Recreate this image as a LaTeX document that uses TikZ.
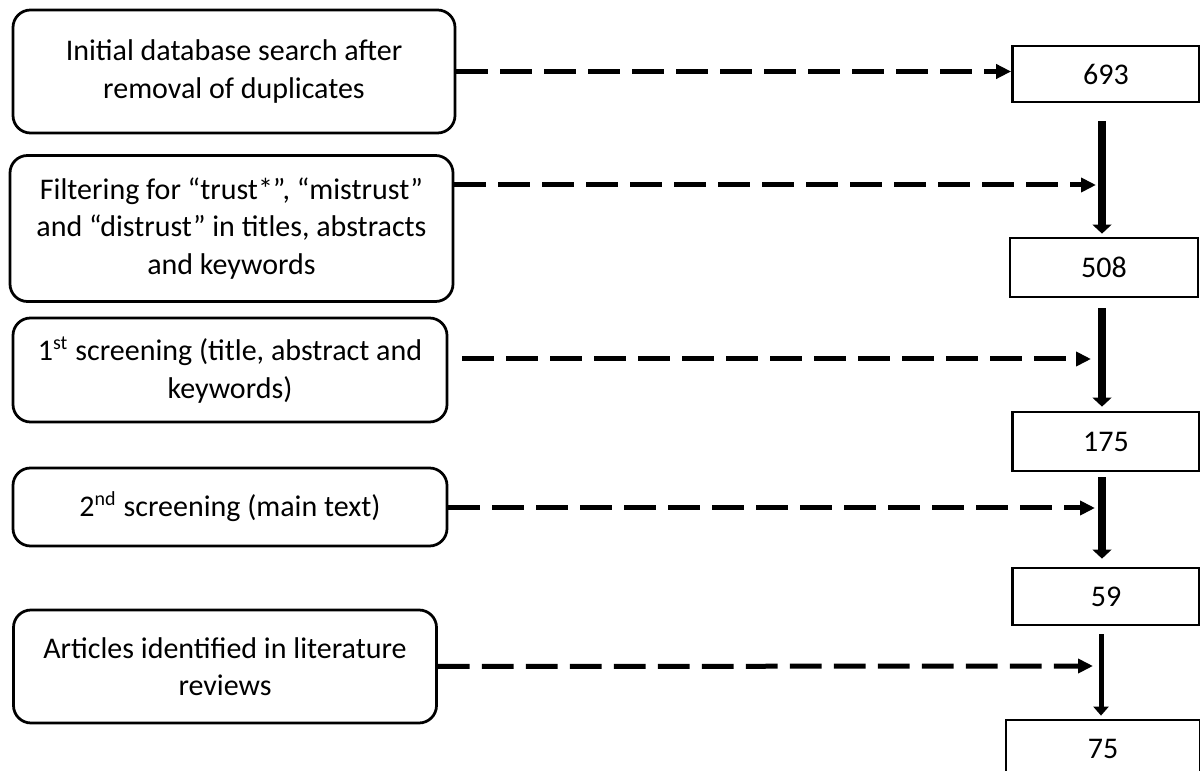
\documentclass[tikz,border=0pt]{standalone}
\usepackage{fontspec}
\setmainfont{Carlito}
\usetikzlibrary{arrows.meta,calc}
\begin{document}
\begin{tikzpicture}[x=0.4pt,y=-0.4pt,
  txt/.style={font=\fontsize{12}{15}\selectfont},
  lbox/.style={txt,draw,line width=1.1pt,rounded corners=7pt,align=center,inner sep=0pt},
  nbox/.style={txt,draw,line width=1.1pt,inner sep=0pt},
  darrow/.style={line width=2pt,dash pattern=on 12.7pt off 4.9pt,-{Triangle[length=6pt,width=5.6pt]}},
  varrow/.style={line width=3pt,-{Triangle[length=3.6pt,width=7.5pt]}},
  thinvarrow/.style={line width=2pt,-{Triangle[length=3.6pt,width=6pt]}},
]
\useasboundingbox (0,0) rectangle (1200,771);

% left boxes
\node[lbox,minimum width=176.8pt,minimum height=49.2pt] (b1) at (234,71.5)
  {Initial database search after\\removal of duplicates};
\node[lbox,minimum width=177.2pt,minimum height=58.4pt] (b2) at (231.5,228.5)
  {Filtering for “trust*”, “mistrust”\\and “distrust” in titles, abstracts\\and keywords};
\node[lbox,minimum width=173.6pt,minimum height=41.6pt] (b3) at (230,370)
  {1\textsuperscript{st} screening (title, abstract and\\keywords)};
\node[lbox,minimum width=173.6pt,minimum height=31.2pt] (b4) at (230,507)
  {2\textsuperscript{nd} screening (main text)};
\node[lbox,minimum width=169.2pt,minimum height=45.2pt] (b5) at (225,666.5)
  {Articles identified in literature\\reviews};

% number boxes
\node[nbox,minimum width=74.8pt,minimum height=22.4pt] (n693) at (1106,74) {693};
\node[nbox,minimum width=75.2pt,minimum height=23.6pt] (n508) at (1104,267.5) {508};
\node[nbox,minimum width=74.8pt,minimum height=23.6pt] (n175) at (1106,441.5) {175};
\node[nbox,minimum width=74.8pt,minimum height=22.8pt] (n59) at (1106,596.5) {59};
\node[nbox,minimum width=77.6pt,minimum height=23.2pt] (n75) at (1103,749) {75};

% vertical arrows
\draw[varrow] ($(n693.south)+(-4,18)$) -- ($(n508.north)+(-2,-3)$);
\draw[varrow] ($(n508.south)+(-2,10)$) -- ($(n175.north)+(-4,-4)$);
\draw[varrow] ($(n175.south)+(-4,5)$) -- ($(n59.north)+(-4,-8)$);
\draw[thinvarrow] ($(n59.south)+(-5,8)$) -- ($(n75.north)+(-2,-3)$);

% junction points on the vertical arrows
\coordinate (j2) at (1096,185);
\coordinate (j3) at (1091,359);
\coordinate (j4) at (1095,508);
\coordinate (j5) at (1093,666);

% dashed arrows
\draw[darrow] (b1.east) -- (b1.east -| n693.west);
\draw[darrow] ($(b2.east)+(0,-43.5)$) -- (j2);
\draw[darrow] ($(b3.east)+(14,-11)$) -- (j3);
\draw[darrow] ($(b4.east)+(0,1)$) -- (j4);
\draw[darrow] (b5.east) -- (j5);
\end{tikzpicture}
\end{document}
